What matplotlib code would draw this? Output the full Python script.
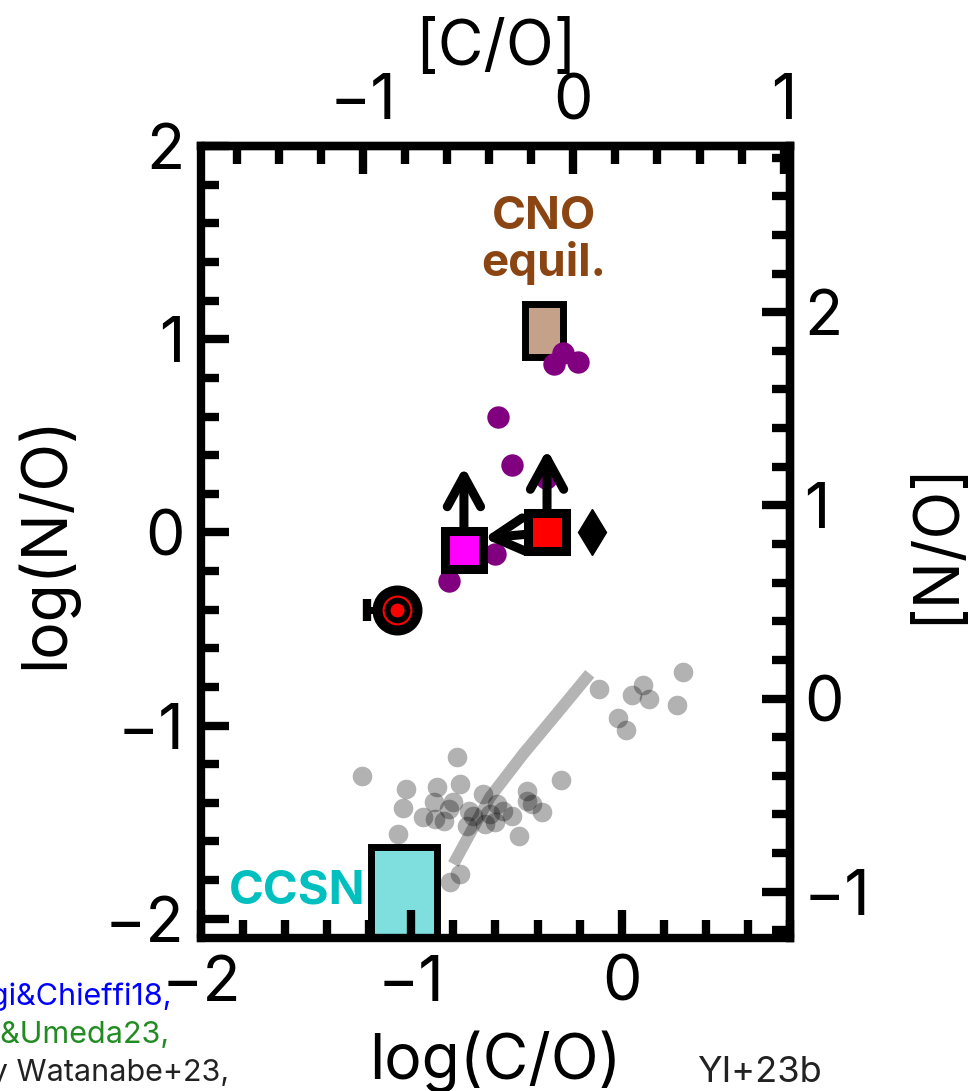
import numpy as np
import matplotlib
matplotlib.use('Agg')
import matplotlib.pyplot as plt
from matplotlib.patches import Rectangle
from matplotlib.ticker import MultipleLocator

plt.rcParams['font.family'] = ['Inter', 'DejaVu Sans']

# solar abundance ratios used for the bracket axes
CO_SUN = -0.23
NO_SUN = -0.86

# local galaxies (gray)
gray_logco = [-1.234, -1.024, -0.878, -0.783, -0.768, -1.039, -0.894, -0.800,
              -0.946, -0.886, -0.847, -0.728, -0.705, -0.657, -0.626, -0.602,
              -0.563, -0.523, -0.649, -0.736, -0.449, -0.452, -0.428, -0.381,
              -0.488, -0.289, -1.065, -0.815, -0.768, -0.823, -0.594,
              -0.108, -0.018, 0.022, 0.051, 0.101, 0.129, 0.262, 0.291]
gray_logno = [-1.263, -1.330, -1.316, -1.161, -1.302, -1.428, -1.397, -1.397,
              -1.475, -1.483, -1.492, -1.440, -1.466, -1.354, -1.458, -1.501,
              -1.440, -1.466, -1.509, -1.518, -1.337, -1.389, -1.406, -1.449,
              -1.570, -1.281, -1.561, -1.812, -1.768, -1.432, -1.406,
              -0.810, -0.960, -1.022, -0.841, -0.789, -0.862, -0.891, -0.724]

# chemical evolution track
track_logco = [-0.800, -0.705, -0.626, -0.468, -0.309, -0.152]
track_logno = [-1.717, -1.527, -1.371, -1.147, -0.939, -0.732]

# N-rich galaxies (purple)
purple_logco = [-0.28, -0.32, -0.21, -0.59, -0.52, -0.82, -0.60, -0.36]
purple_logno = [0.93, 0.87, 0.88, 0.60, 0.35, -0.25, -0.11, 0.28]

# individual objects
magenta_pt = (-0.75, -0.09)
red_pt = (-0.355, 0.0)
diamond_pt = (-0.14, 0.0)
ring_pt = (-1.07, -0.40)
ring_xerr_low = 0.14
limit_len = 0.43
red_xlimit = (-0.30, -0.03)

# yield regions: x0, x1, y0, y1
cno_box = (-0.46, -0.28, 0.91, 1.18)
ccsn_box = (-1.19, -0.88, -2.40, -1.63)

fig = plt.figure(figsize=(9.77, 10.91), dpi=100)
ax = fig.add_axes([0.2057, 0.1402, 0.6029, 0.7259])
ax.set_xlim(-2, 0.8)
ax.set_ylim(-2.1, 2)

fs = 45
for sp in ax.spines.values():
    sp.set_linewidth(6)

def style_axis(a, **kw):
    a.tick_params(which='both', direction='in', width=6, labelsize=fs, **kw)
    a.tick_params(which='major', length=20)
    a.tick_params(which='minor', length=13)

ax.xaxis.set_major_locator(MultipleLocator(1))
ax.xaxis.set_minor_locator(MultipleLocator(0.2))
ax.yaxis.set_major_locator(MultipleLocator(1))
ax.yaxis.set_minor_locator(MultipleLocator(0.2))
style_axis(ax, top=False, right=False, pad=12)

secx = ax.secondary_xaxis('top', functions=(lambda x: x - CO_SUN, lambda x: x + CO_SUN))
secx.xaxis.set_major_locator(MultipleLocator(1))
secx.xaxis.set_minor_locator(MultipleLocator(0.2))
style_axis(secx, pad=10)
secx.spines['top'].set_linewidth(6)
secx.set_xlabel('[C/O]', fontsize=fs, labelpad=6)

secy = ax.secondary_yaxis('right', functions=(lambda y: y - NO_SUN, lambda y: y + NO_SUN))
secy.yaxis.set_major_locator(MultipleLocator(1))
secy.yaxis.set_minor_locator(MultipleLocator(0.2))
style_axis(secy, pad=10)
secy.spines['right'].set_linewidth(6)
secy.set_ylabel('[N/O]', fontsize=fs, labelpad=26)

ax.set_xlabel('log(C/O)', fontsize=fs, labelpad=12)
ax.set_ylabel('log(N/O)', fontsize=fs, labelpad=20)

# yield regions
x0, x1, y0, y1 = cno_box
ax.add_patch(Rectangle((x0, y0), x1 - x0, y1 - y0, facecolor=(0.545, 0.271, 0.075, 0.5),
                       edgecolor='k', lw=5, zorder=1))
ax.text((x0 + x1) / 2, 1.51, 'CNO\nequil.', color='saddlebrown', fontsize=33,
        fontweight='bold', ha='center', va='center', linespacing=1.1)

x0, x1, y0, y1 = ccsn_box
ax.add_patch(Rectangle((x0, y0), x1 - x0, y1 - y0, facecolor=(0, 0.75, 0.75, 0.5),
                       edgecolor='k', lw=5, zorder=1))
ax.text(x0 - 0.03, -1.86, 'CCSN', color='c', fontsize=34, fontweight='bold',
        ha='right', va='center')

# local sample and track
ax.plot(track_logco, track_logno, color='#b4b4b4', lw=8.5, solid_capstyle='butt', zorder=2)
ax.scatter(gray_logco, gray_logno, s=200, color='k', alpha=0.3, lw=0, zorder=3)

# N-rich galaxies
ax.scatter(purple_logco, purple_logno, s=260, color='purple', lw=0, zorder=4)

# limits
arrow_kw = dict(arrowstyle='->,head_length=0.55,head_width=0.3', lw=6.5, color='k',
                capstyle='round', joinstyle='round', shrinkA=0, shrinkB=0, mutation_scale=40)
for (px, py) in (magenta_pt, red_pt):
    ax.annotate('', xy=(px, py + limit_len), xytext=(px, py), arrowprops=arrow_kw, zorder=5)
ax.annotate('', xy=(red_pt[0] + red_xlimit[0], red_pt[1] + red_xlimit[1]), xytext=red_pt,
            arrowprops=arrow_kw, zorder=5)

ax.plot(*magenta_pt, 's', ms=28, mfc='magenta', mec='k', mew=6.5, zorder=6)
ax.plot(*red_pt, 's', ms=28, mfc='red', mec='k', mew=6.5, zorder=6)
ax.plot(*diamond_pt, 'd', ms=23, color='k', zorder=6)

ax.errorbar(ring_pt[0], ring_pt[1], xerr=[[ring_xerr_low], [0]], fmt='none', ecolor='k',
            elinewidth=5, capsize=8, capthick=6, zorder=5)
ax.plot(*ring_pt, 'o', ms=35, color='k', zorder=6)
ax.plot(*ring_pt, 'o', ms=20, mfc='none', mec='red', mew=1.5, zorder=7)
ax.plot(*ring_pt, 'o', ms=9, color='red', zorder=7)

# model references
fig.text(0.176, 0.0862, 'Limongi&Chieffi18,', color='blue', fontsize=22, ha='right', va='center')
fig.text(0.174, 0.0514, 'Takahashi&Umeda23,', color='forestgreen', fontsize=22, ha='right', va='center')
fig.text(0.235, 0.0165, 'Grid by Watanabe+23,', color='#222222', fontsize=22, ha='right', va='center')
fig.text(0.713, 0.0170, 'YI+23b', color='#222222', fontsize=26, ha='left', va='center')

fig.savefig('out.png', dpi=100)
